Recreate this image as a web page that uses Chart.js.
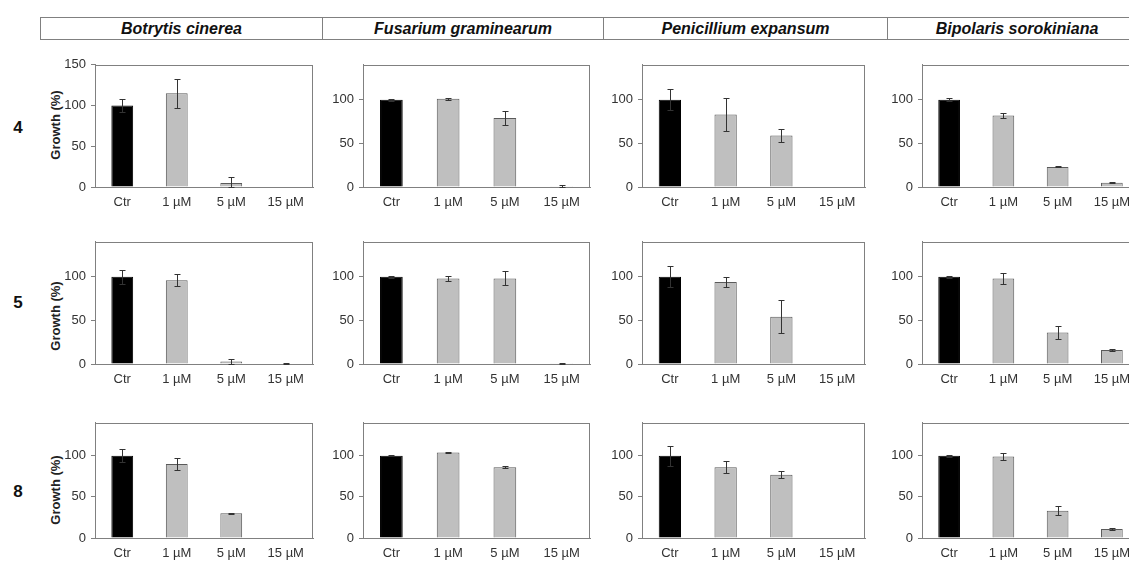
<!DOCTYPE html>
<html lang="en">
<head>
<meta charset="UTF-8" />
<title>Growth (%)</title>
<script src="https://cdn.jsdelivr.net/npm/chart.js@4.4.1/dist/chart.umd.min.js"></script>
<style>
  body { margin:0; width:1129px; height:567px; overflow:hidden; background:#fff; position:relative;
         font-family:"Liberation Sans", Arial, sans-serif; }
  canvas { position:absolute; }
  .cell { position:absolute; top:17px; height:23px; box-sizing:border-box; border:1px solid #808080;
          font:italic bold 16px "Liberation Sans", Arial, sans-serif; color:#111; text-align:center; line-height:21px; }
  .row { position:absolute; left:8px; width:20px; text-align:center; font:bold 17px "Liberation Sans", Arial, sans-serif;
         color:#111; transform:translateY(-50%); }
  .ytitle { position:absolute; left:55px; white-space:nowrap; font:bold 13px "Liberation Sans", Arial, sans-serif; color:#222;
            transform:translate(-50%,-50%) rotate(-90deg); }
</style>
</head>
<body>
<script>
const doses = ['Ctr', '1 µM', '5 µM', '15 µM'];
const fungi = ['Botrytis cinerea', 'Fusarium graminearum', 'Penicillium expansum', 'Bipolaris sorokiniana'];
const compounds = ['4', '5', '8'];

// growth (%) and error, one row per fungus
const growth4 = [[100, 115, 5, 0], [100, 101, 79, 1], [100, 83, 59, 0], [100, 82, 23, 5]];
const err4    = [[8, 18, 7.5, 0], [1, 1, 7.5, 1], [12, 19, 7.5, 0], [1.5, 2.5, 0.5, 0.8]];
const growth5 = [[100, 96, 3, 0.5], [100, 98, 98, 1], [100, 94, 54, 0], [100, 98, 36, 16]];
const err5    = [[8, 7, 3, 0.3], [1, 3, 8, 0.5], [12, 6, 19, 0], [1, 6, 7, 1]];
const growth8 = [[100, 90, 30, 0], [100, 104, 86, 0], [100, 86, 77, 0], [100, 99, 33, 11]];
const err8    = [[8, 7, 0.5, 0], [0.5, 1, 1.5, 0], [12, 7, 4.5, 0], [1, 4, 5.5, 1.5]];

const yMax = [[150, 140, 140, 140], [140, 140, 140, 140], [140, 140, 140, 140]];
const yTicksTall = [0, 50, 100, 150];
const yTicks = [0, 50, 100];

const growth = [growth4, growth5, growth8];
const errors = [err4, err5, err8];

// layout of the plot boxes
const colLeft = [95, 363, 642, 922];
const colWidth = [218, 227, 223, 217];
const rowTop = [62, 239, 420];
const rowHeight = [125, 125, 118];
const headLeft = [40, 322, 603, 887];
const headWidth = [283, 282, 285, 260];
const rowMid = [128, 303, 492];
const titleMid = [125, 316, 490];

Chart.defaults.font.family = '"Liberation Sans", Arial, sans-serif';
Chart.defaults.font.size = 13;
Chart.defaults.color = '#333';

const boxAndErrors = {
  id: 'errorBars',
  beforeDatasetsDraw(chart) {
    const {ctx, chartArea: a} = chart;
    ctx.save();
    ctx.strokeStyle = '#808080';
    ctx.lineWidth = 1;
    ctx.strokeRect(Math.round(a.left) + 0.5, Math.round(a.top) + 0.5, Math.round(a.right - a.left) - 1, Math.round(a.bottom - a.top));
    ctx.restore();
  },
  afterDatasetsDraw(chart, args, opts) {
    const {ctx} = chart;
    const y = chart.scales.y;
    const meta = chart.getDatasetMeta(0);
    const vals = chart.data.datasets[0].data;
    ctx.save();
    ctx.strokeStyle = '#333';
    ctx.lineWidth = 1;
    meta.data.forEach((bar, i) => {
      const e = opts.errors[i];
      if (!e) return;
      const x = Math.round(bar.x) + 0.5;
      const top = Math.round(y.getPixelForValue(vals[i] + e)) + 0.5;
      const bot = Math.round(y.getPixelForValue(Math.max(vals[i] - e, 0))) + 0.5;
      ctx.beginPath();
      ctx.moveTo(x, top); ctx.lineTo(x, bot);
      ctx.moveTo(x - 3, top); ctx.lineTo(x + 3, top);
      ctx.moveTo(x - 3, bot); ctx.lineTo(x + 3, bot);
      ctx.stroke();
    });
    ctx.restore();
  }
};

fungi.forEach((f, k) => {
  const d = document.createElement('div');
  d.className = 'cell';
  d.style.left = headLeft[k] + 'px';
  d.style.width = headWidth[k] + 'px';
  d.textContent = f;
  document.body.appendChild(d);
});

compounds.forEach((c, r) => {
  const lab = document.createElement('div');
  lab.className = 'row';
  lab.style.top = rowMid[r] + 'px';
  lab.textContent = c;
  document.body.appendChild(lab);

  const t = document.createElement('div');
  t.className = 'ytitle';
  t.style.top = titleMid[r] + 'px';
  t.textContent = 'Growth (%)';
  document.body.appendChild(t);

  fungi.forEach((f, k) => {
    const cv = document.createElement('canvas');
    cv.width = colWidth[k] + 60;
    cv.height = rowHeight[r] + 45;
    cv.style.left = (colLeft[k] - 50) + 'px';
    cv.style.top = (rowTop[r] - 10) + 'px';
    document.body.appendChild(cv);
    const ticks = yMax[r][k] === 150 ? yTicksTall : yTicks;

    new Chart(cv, {
      type: 'bar',
      data: {
        labels: doses,
        datasets: [{
          data: growth[r][k],
          backgroundColor: ['#000000', '#bfbfbf', '#bfbfbf', '#bfbfbf'],
          borderColor: ['#000000', '#5a5a5a', '#5a5a5a', '#5a5a5a'],
          borderWidth: 1,
          categoryPercentage: 1,
          barPercentage: 0.4
        }]
      },
      options: {
        responsive: false,
        animation: false,
        layout: { padding: { top: 10, right: 10, left: 0, bottom: 0 } },
        plugins: { legend: { display: false }, tooltip: { enabled: false }, errorBars: { errors: errors[r][k] } },
        scales: {
          x: {
            grid: { display: false },
            border: { display: true, color: '#808080' },
            ticks: { padding: 0, color: '#333' },
            afterFit: s => { s.height = 35; }
          },
          y: {
            min: 0, max: yMax[r][k],
            grid: { drawOnChartArea: false, drawTicks: true, tickLength: 4, color: '#808080' },
            border: { display: true, color: '#808080' },
            ticks: { padding: 5, color: '#333' },
            afterBuildTicks: s => { s.ticks = ticks.map(v => ({ value: v })); },
            afterFit: s => { s.width = 50; }
          }
        }
      },
      plugins: [boxAndErrors]
    });
  });
});
</script>
</body>
</html>
